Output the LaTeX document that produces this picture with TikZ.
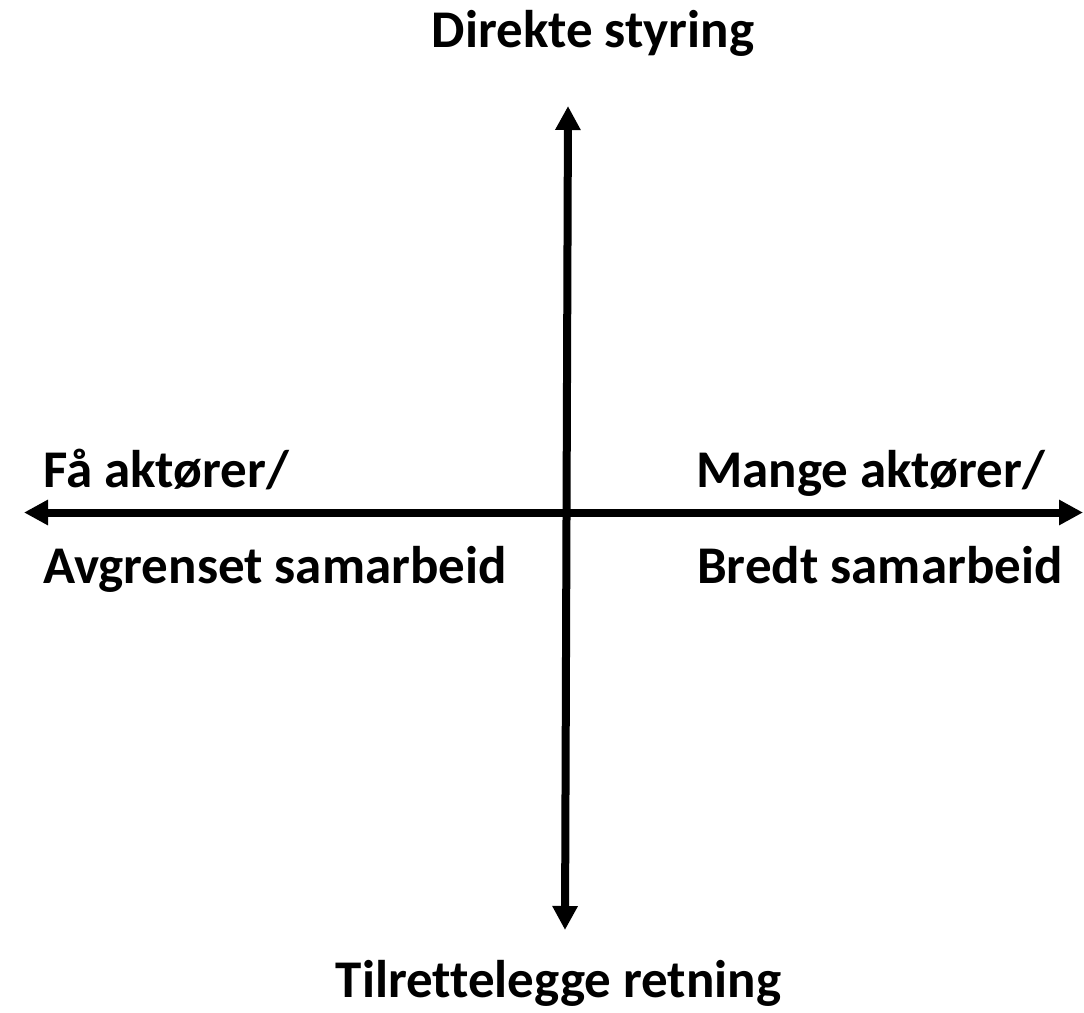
\documentclass[tikz,border=0pt]{standalone}
\usepackage{fontspec}
\setmainfont[Ligatures=NoCommon]{Carlito}
\usetikzlibrary{arrows.meta}
\begin{document}
\begin{tikzpicture}[x=1pt,y=-1pt,
  axis/.style={line width=8pt,{Triangle[length=24pt,width=24pt]}-{Triangle[length=24pt,width=24pt]}},
  lbl/.style={inner sep=0pt,font=\bfseries\fontsize{53}{64}\selectfont}]
\useasboundingbox[fill=white] (0,0) rectangle (1084,1012);
\coordinate (top) at (568,106);
\coordinate (bottom) at (565,930);
\coordinate (left) at (24,512.5);
\coordinate (right) at (1083,512.5);
\draw[axis] (bottom) -- (top);
\draw[axis] (left) -- (right);
\node[lbl,anchor=base] (n1) at (593,47) {Direkte styring};
\node[lbl,anchor=base] (n2) at (558.5,997) {Tilrettelegge retning};
\node[lbl,anchor=base west] (n3) at (43,487) {Få aktører/};
\node[lbl,anchor=base west] (n4) at (43,583) {Avgrenset samarbeid};
\node[lbl,anchor=base west] (n5) at (696,487) {Mange aktører/};
\node[lbl,anchor=base west] (n6) at (697,583) {Bredt samarbeid};
\end{tikzpicture}
\end{document}
